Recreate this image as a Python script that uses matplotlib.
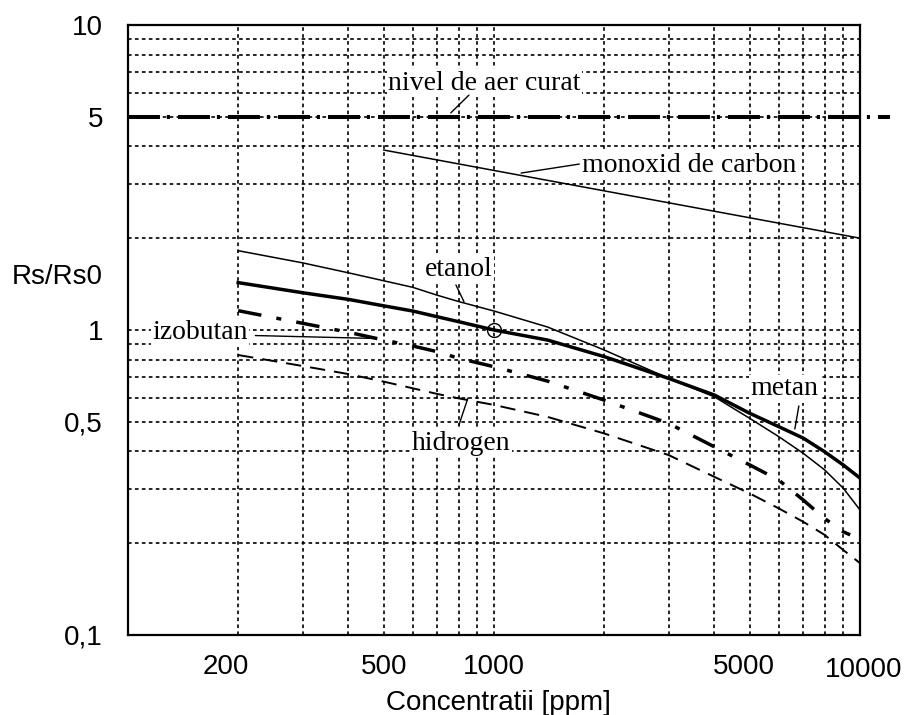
import matplotlib
matplotlib.use("Agg")
import matplotlib.pyplot as plt
from matplotlib.ticker import LogLocator, NullFormatter, FixedLocator, FixedFormatter
import matplotlib.transforms as mtransforms

# concentratii [ppm]
conc = [200, 300, 400, 500, 600, 700, 800, 1000, 1400, 2000,
        3000, 4000, 5000, 6000, 7000, 8000, 9000, 10000]

etanol = [1.82, 1.66, 1.54, 1.45, 1.38, 1.30, 1.24, 1.154, 1.023, 0.86,
          0.694, 0.604, 0.513, 0.447, 0.394, 0.348, 0.303, 0.257]
metan = [1.43, 1.325, 1.26, 1.20, 1.154, 1.105, 1.065, 1.0, 0.927, 0.818,
         0.694, 0.612, 0.533, 0.482, 0.442, 0.399, 0.361, 0.327]
hidrogen = [0.828, 0.762, 0.717, 0.677, 0.644, 0.617, 0.597, 0.568, 0.519, 0.458,
            0.389, 0.330, 0.291, 0.260, 0.235, 0.213, 0.190, 0.172]

conc_izobutan = [200, 300, 400, 500, 600, 700, 800, 1000, 1400, 2000,
                 3000, 4000, 5000, 6000, 7000, 8000, 9000, 9400]
izobutan = [1.157, 1.052, 0.983, 0.927, 0.886, 0.849, 0.808, 0.758, 0.68, 0.589,
            0.494, 0.414, 0.361, 0.322, 0.277, 0.241, 0.218, 0.213]

conc_co = [500, 10000]
monoxid = [3.89, 2.0]

aer_curat = 5
conc_aer = [100, 12100]

x_ticks = [200, 500, 1000, 5000, 10000]
x_labels = ["200", "500", "1000", "5000", "10000"]
y_ticks = [0.1, 0.5, 1, 5, 10]
y_labels = ["0,1", "0,5", "1", "5", "10"]

plt.rcParams['font.family'] = ['Liberation Sans', 'DejaVu Sans']
plt.rcParams['lines.scale_dashes'] = False

fig = plt.figure(figsize=(9.05, 7.15), dpi=100)
ax = fig.add_axes([128 / 905, 1 - 635 / 715, 732 / 905, 610 / 715])

ax.set_xscale('log')
ax.set_yscale('log')
ax.set_xlim(100, 10000)
ax.set_ylim(0.1, 10)

# grila punctata (si la pozitiile etichetelor)
ax.xaxis.set_major_locator(FixedLocator(x_ticks))
ax.xaxis.set_major_formatter(FixedFormatter(x_labels))
ax.yaxis.set_major_locator(FixedLocator(y_ticks))
ax.yaxis.set_major_formatter(FixedFormatter(y_labels))
ax.xaxis.set_minor_locator(LogLocator(base=10, subs=range(1, 10), numticks=20))
ax.yaxis.set_minor_locator(LogLocator(base=10, subs=range(1, 10), numticks=20))
ax.xaxis.set_minor_formatter(NullFormatter())
ax.yaxis.set_minor_formatter(NullFormatter())
ax.xaxis.remove_overlapping_locs = False
ax.yaxis.remove_overlapping_locs = False
ax.grid(which='minor', color='black', linestyle=(0, (2.6, 2.4)), linewidth=1.2)
ax.grid(which='major', visible=False)
ax.tick_params(which='both', length=0, labelsize=20)
ax.tick_params(axis='y', pad=18)
ax.tick_params(axis='x', pad=14)
for s in ax.spines.values():
    s.set_linewidth(1.6)

# mici deplasari ale etichetelor ca in original
offsets = {"200": (-12, 0), "5000": (-6, 0), "10000": (4, -3)}
for lab in ax.get_xticklabels():
    dx, dy = offsets.get(lab.get_text(), (0, 0))
    lab.set_transform(lab.get_transform() +
                      mtransforms.ScaledTranslation(dx / 100, dy / 100, fig.dpi_scale_trans))

# curbele
ax.plot(conc_aer, [aer_curat, aer_curat], color='black', lw=2.9,
        linestyle=(0, (23, 5, 2.2, 5.8)), clip_on=False, solid_capstyle='butt')
ax.plot(conc_co, monoxid, color='black', lw=1.1)
ax.plot(conc, etanol, color='black', lw=1.1)
ax.plot(conc, metan, color='black', lw=2.5)
ax.plot(conc_izobutan, izobutan, color='black', lw=2.5,
        linestyle=(0, (17, 11, 3.6, 11)))
ax.plot(conc, hidrogen, color='black', lw=1.4, linestyle=(0, (11, 6.5)))
ax.plot([1000], [1], marker='o', ms=10, mfc='none', mec='black', mew=1)

# etichete
serif = ['Liberation Serif', 'DejaVu Serif']
box = dict(facecolor='white', edgecolor='none', pad=1)
lead = dict(arrowstyle='-', lw=1, color='black', shrinkA=0, shrinkB=0)

ax.text(942, 6.45, "nivel de aer curat", family=serif, fontsize=20,
        ha='center', va='center', bbox=box)
ax.annotate('', xy=(762, 5.15), xytext=(854, 5.89), arrowprops=lead)

ax.text(3411, 3.475, "monoxid de carbon", family=serif, fontsize=20,
        ha='center', va='center', bbox=box)
ax.annotate('', xy=(1186, 3.27), xytext=(1710, 3.50), arrowprops=lead)

ax.text(157.5, 0.978, "izobutan", family=serif, fontsize=20,
        ha='center', va='center', bbox=box)
ax.annotate('', xy=(475, 0.938), xytext=(222.8, 0.959), arrowprops=lead)

ax.text(802, 1.573, "etanol", family=serif, fontsize=20,
        ha='center', va='center', bbox=box)
ax.annotate('', xy=(828, 1.238), xytext=(787, 1.405), arrowprops=lead)

ax.text(812, 0.426, "hidrogen", family=serif, fontsize=20,
        ha='center', va='center', bbox=box)
ax.annotate('', xy=(848.7, 0.598), xytext=(802, 0.488), arrowprops=lead)

ax.text(6213, 0.641, "metan", family=serif, fontsize=20,
        ha='center', va='center', bbox=box)
ax.annotate('', xy=(6637, 0.4736), xytext=(6806, 0.5635), arrowprops=lead)

ax.set_ylabel("Rs/Rs0", fontsize=20, rotation=0, ha='left', va='center')
ax.yaxis.set_label_coords(-0.1585, 0.587)
ax.set_xlabel("Concentratii [ppm]", fontsize=20, ha='center', va='center')
ax.xaxis.set_label_coords(0.5055, -0.1115)

plt.savefig("out.png", dpi=100)
